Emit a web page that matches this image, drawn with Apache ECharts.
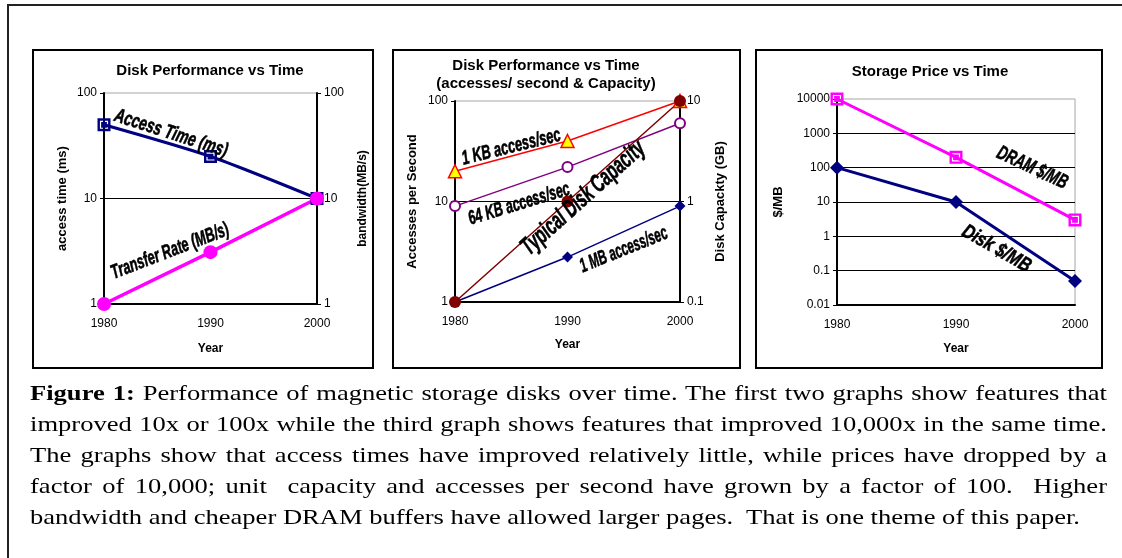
<!DOCTYPE html>
<html>
<head>
<meta charset="utf-8">
<script src="https://cdn.jsdelivr.net/npm/echarts@6/dist/echarts.min.js"></script>
<style>
html, body { margin: 0; padding: 0; background: #fff; }
#chart { position: absolute; left: 0; top: 0; width: 1122px; height: 558px; }
#caption { position: absolute; left: 30px; top: 377px; transform-origin: 0 0;
  font-family: "Liberation Serif", "Times New Roman", serif; font-size: 22px; line-height: 31px; color: #000; }
#caption .ln { white-space: nowrap; }
#caption .ln span { white-space: pre; }
</style>
</head>
<body>
<div id="chart"></div>
<div id="caption">
  <div class="ln j"><span><b>Figure 1:</b> Performance of magnetic storage disks over time. The first two graphs show features that</span></div>
  <div class="ln j"><span>improved 10x or 100x while the third graph shows features that improved 10,000x in the same time.</span></div>
  <div class="ln j"><span>The graphs show that access times have improved relatively little, while prices have dropped by a</span></div>
  <div class="ln j"><span>factor of 10,000; unit  capacity and accesses per second have grown by a factor of 100.  Higher</span></div>
  <div class="ln last"><span>bandwidth and cheaper DRAM buffers have allowed larger pages.  That is one theme of this paper.</span></div>
</div>
<script>
// ---------------- data ----------------
const years = [1980, 1990, 2000];
const accessTimeMs = [50, 25, 10];
const transferRateMBps = [1, 3.1, 10];
const oneKBAccessPerSec = [20, 40, 100];
const sixtyFourKBAccessPerSec = [9, 22, 60];
const oneMBAccessPerSec = [1, 2.8, 9];
const typicalDiskCapacityGB = [0.1, 1, 10];
const dramDollarsPerMB = [10000, 200, 3];
const diskDollarsPerMB = [100, 10, 0.05];

const panel1Range = [1, 100];
const panel2LeftRange = [1, 100];
const panel2RightRange = [0.1, 10];
const panel3Range = [0.01, 10000];

// ---------------- helpers ----------------
const FONT = '"Liberation Sans", Arial, Helvetica, sans-serif';
const pts = arr => years.map((y, i) => [y, arr[i]]);
const fmt = v => String(+Number(v).toPrecision(6));

function xAxis(gridIndex, nameGap) {
  return {
    type: 'value', gridIndex, min: years[0], max: years[years.length - 1], interval: 10,
    axisLine: { show: true, onZero: false, lineStyle: { color: '#000', width: 2 } },
    axisTick: { show: false }, splitLine: { show: false },
    axisLabel: { color: '#000', fontFamily: FONT, fontSize: 12, margin: 14, showMinLabel: true, showMaxLabel: true,
      formatter: v => String(v) },
    name: 'Year', nameLocation: 'middle', nameGap,
    nameTextStyle: { color: '#000', fontFamily: FONT, fontSize: 12, fontWeight: 'bold' }
  };
}
function yAxis(gridIndex, range, position, name, nameGap, withSplit, nameSize) {
  return {
    type: 'log', logBase: 10, gridIndex, position, min: range[0], max: range[1],
    axisLine: { show: true, onZero: false, lineStyle: { color: '#000', width: 2 } },
    axisTick: { show: true, inside: false, length: 4, lineStyle: { color: '#000', width: 1 } },
    axisLabel: { color: '#000', fontFamily: FONT, fontSize: 12, margin: 7, formatter: fmt },
    splitLine: { show: withSplit, showMinLine: false, showMaxLine: false, lineStyle: { color: '#000', width: 1 } },
    name, nameLocation: 'middle', nameGap, nameRotate: 90,
    nameTextStyle: { color: '#000', fontFamily: FONT, fontSize: nameSize, fontWeight: 'bold' }
  };
}
function grid(left, top, width, height) {
  return { left, top, width, height, show: true, borderColor: '#a6a6a6', borderWidth: 1,
    backgroundColor: 'transparent', containLabel: false, outerBoundsMode: 'none' };
}
const hollowSquare = 'path://M0,0L14,0L14,14L0,14Z M2.6,2.6L2.6,11.4L11.4,11.4L11.4,2.6Z M3.9,3.9L10.1,3.9L10.1,10.1L3.9,10.1Z';

function box(id, x, y, w, h, stroke, lw) {
  return { type: 'rect', id, silent: true, z: 0,
    shape: { x, y, width: w, height: h },
    style: { fill: 'none', stroke, lineWidth: lw } };
}
function label(id, text, x, y, size) {
  return { type: 'text', id, silent: true, z: 50, x, y,
    style: { text, x: 0, y: 0, textAlign: 'center', textVerticalAlign: 'middle', align: 'center', verticalAlign: 'middle',
      font: 'bold ' + size + 'px ' + FONT, fill: '#000' } };
}

const chart = echarts.init(document.getElementById('chart'), null, { renderer: 'canvas' });

const option = {
  animation: false,
  backgroundColor: '#fff',
  grid: [
    grid(104, 93, 213, 211),
    grid(455, 101, 225, 201),
    grid(837, 99, 238, 206)
  ],
  xAxis: [xAxis(0, 39), xAxis(1, 37), xAxis(2, 38)],
  yAxis: [
    yAxis(0, panel1Range, 'left', 'access time (ms)', 35, true, 13),
    yAxis(0, panel1Range, 'right', 'bandwidth(MB/s)', 40, false, 12),
    yAxis(1, panel2LeftRange, 'left', 'Accesses per Second', 36, true, 13),
    yAxis(1, panel2RightRange, 'right', 'Disk Capackty (GB)', 34, false, 13),
    yAxis(2, panel3Range, 'left', '$/MB', 52, true, 13)
  ],
  series: [
    { name: 'Access Time (ms)', type: 'line', xAxisIndex: 0, yAxisIndex: 0, data: pts(accessTimeMs), smooth: 0.25,
      lineStyle: { color: '#000080', width: 3 }, symbol: hollowSquare, symbolSize: 13,
      itemStyle: { color: '#000080' } },
    { name: 'Transfer Rate (MB/s)', type: 'line', xAxisIndex: 0, yAxisIndex: 1, data: pts(transferRateMBps),
      lineStyle: { color: '#FF00FF', width: 3.5 }, symbol: 'circle', symbolSize: 14,
      itemStyle: { color: '#FF00FF' } },

    { name: '1 MB access/sec', type: 'line', xAxisIndex: 1, yAxisIndex: 2, data: pts(oneMBAccessPerSec),
      lineStyle: { color: '#000080', width: 1.5 }, symbol: 'diamond', symbolSize: 11,
      itemStyle: { color: '#000080' } },
    { name: '64 KB access/sec', type: 'line', xAxisIndex: 1, yAxisIndex: 2, data: pts(sixtyFourKBAccessPerSec),
      lineStyle: { color: '#800080', width: 1.5 }, symbol: 'emptyCircle', symbolSize: 10,
      itemStyle: { color: '#800080', borderColor: '#800080', borderWidth: 1.5 } },
    { name: '1 KB access/sec', type: 'line', xAxisIndex: 1, yAxisIndex: 2, data: pts(oneKBAccessPerSec),
      lineStyle: { color: '#FF0000', width: 1.5 }, symbol: 'triangle', symbolSize: 13,
      itemStyle: { color: '#FFFF00', borderColor: '#FF0000', borderWidth: 1.5 } },
    { name: 'Typical Disk Capacity', type: 'line', xAxisIndex: 1, yAxisIndex: 3, data: pts(typicalDiskCapacityGB),
      lineStyle: { color: '#800000', width: 1.5 }, symbol: 'circle', symbolSize: 12,
      itemStyle: { color: '#800000' } },

    { name: 'DRAM $/MB', type: 'line', xAxisIndex: 2, yAxisIndex: 4, data: pts(dramDollarsPerMB),
      lineStyle: { color: '#FF00FF', width: 3 }, symbol: hollowSquare, symbolSize: 13,
      itemStyle: { color: '#FF00FF' } },
    { name: 'Disk $/MB', type: 'line', xAxisIndex: 2, yAxisIndex: 4, data: pts(diskDollarsPerMB),
      lineStyle: { color: '#000080', width: 3 }, symbol: 'diamond', symbolSize: 14,
      itemStyle: { color: '#000080' } }
  ],
  graphic: [
    box('outer', 8, 5, 1200, 700, '#222', 2),
    box('p1', 33, 50, 340, 318, '#000', 2),
    box('p2', 393, 50, 347, 318, '#000', 2),
    box('p3', 756, 50, 346, 318, '#000', 2),
    label('t1', 'Disk Performance vs Time', 210, 71, 15),
    label('t2a', 'Disk Performance vs Time', 546, 66, 15),
    label('t2b', '(accesses/ second & Capacity)', 546, 84, 15),
    label('t3', 'Storage Price vs Time', 930, 72, 15)
  ]
};
chart.setOption(option);

// ------------- in-plot annotations anchored at data coordinates -------------
const annotations = [
  { text: 'Access Time (ms)', x: 0, y: 0, at: [1986.3, 41.3], angle: -18, size: 20, len: 118 },
  { text: 'Transfer Rate (MB/s)', x: 0, y: 0, at: [1986.2, 3.15], angle: 21, size: 20, len: 125 },
  { text: '1 KB access/sec', x: 1, y: 2, at: [1985.0, 34.8], angle: 14, size: 20, len: 101 },
  { text: '64 KB access/sec', x: 1, y: 2, at: [1985.7, 9.4], angle: 17, size: 20, len: 105 },
  { text: 'Typical Disk Capacity', x: 1, y: 2, at: [1991.4, 10.8], angle: 42, size: 25, len: 158 },
  { text: '1 MB access/sec', x: 1, y: 2, at: [1995.0, 3.3], angle: 22, size: 20, len: 93 },
  { text: 'DRAM $/MB', x: 2, y: 4, at: [1996.4, 98], angle: -25, size: 20, len: 76 },
  { text: 'Disk $/MB', x: 2, y: 4, at: [1993.4, 0.43], angle: -30, size: 20, len: 76 }
];
const ctx = document.createElement('canvas').getContext('2d');
const annGraphics = annotations.map((a, i) => {
  const p = chart.convertToPixel({ xAxisIndex: a.x, yAxisIndex: a.y }, a.at);
  const font = 'italic bold ' + a.size + 'px ' + FONT;
  ctx.font = font;
  const w = ctx.measureText(a.text).width;
  return { type: 'text', id: 'ann' + i, silent: true, z: 60,
    x: p[0], y: p[1], rotation: a.angle * Math.PI / 180, scaleX: a.len / w,
    style: { text: a.text, x: 0, y: 0, textAlign: 'center', textVerticalAlign: 'middle', align: 'center', verticalAlign: 'middle',
      font, fill: '#000', stroke: '#000', lineWidth: 0.6,
      shadowColor: 'rgba(0,0,0,0.4)', shadowBlur: 1, shadowOffsetX: 1, shadowOffsetY: 1 } };
});
chart.setOption({ graphic: annGraphics });

// ------------- caption: horizontally stretched, justified lines -------------
const cap = document.getElementById('caption');
const lastSpan = cap.querySelector('.last span');
const lastTarget = 1050;     // natural width of the final (unjustified) line
const fullTarget = 1077;     // width of justified lines
const sx = lastTarget / lastSpan.getBoundingClientRect().width;
cap.style.transform = 'scaleX(' + sx + ')';
cap.querySelectorAll('.ln.j span').forEach(span => {
  const natural = span.getBoundingClientRect().width / sx;
  const spaces = (span.textContent.match(/ /g) || []).length;
  if (spaces > 0) span.style.wordSpacing = ((fullTarget / sx - natural) / spaces) + 'px';
});
</script>
</body>
</html>
